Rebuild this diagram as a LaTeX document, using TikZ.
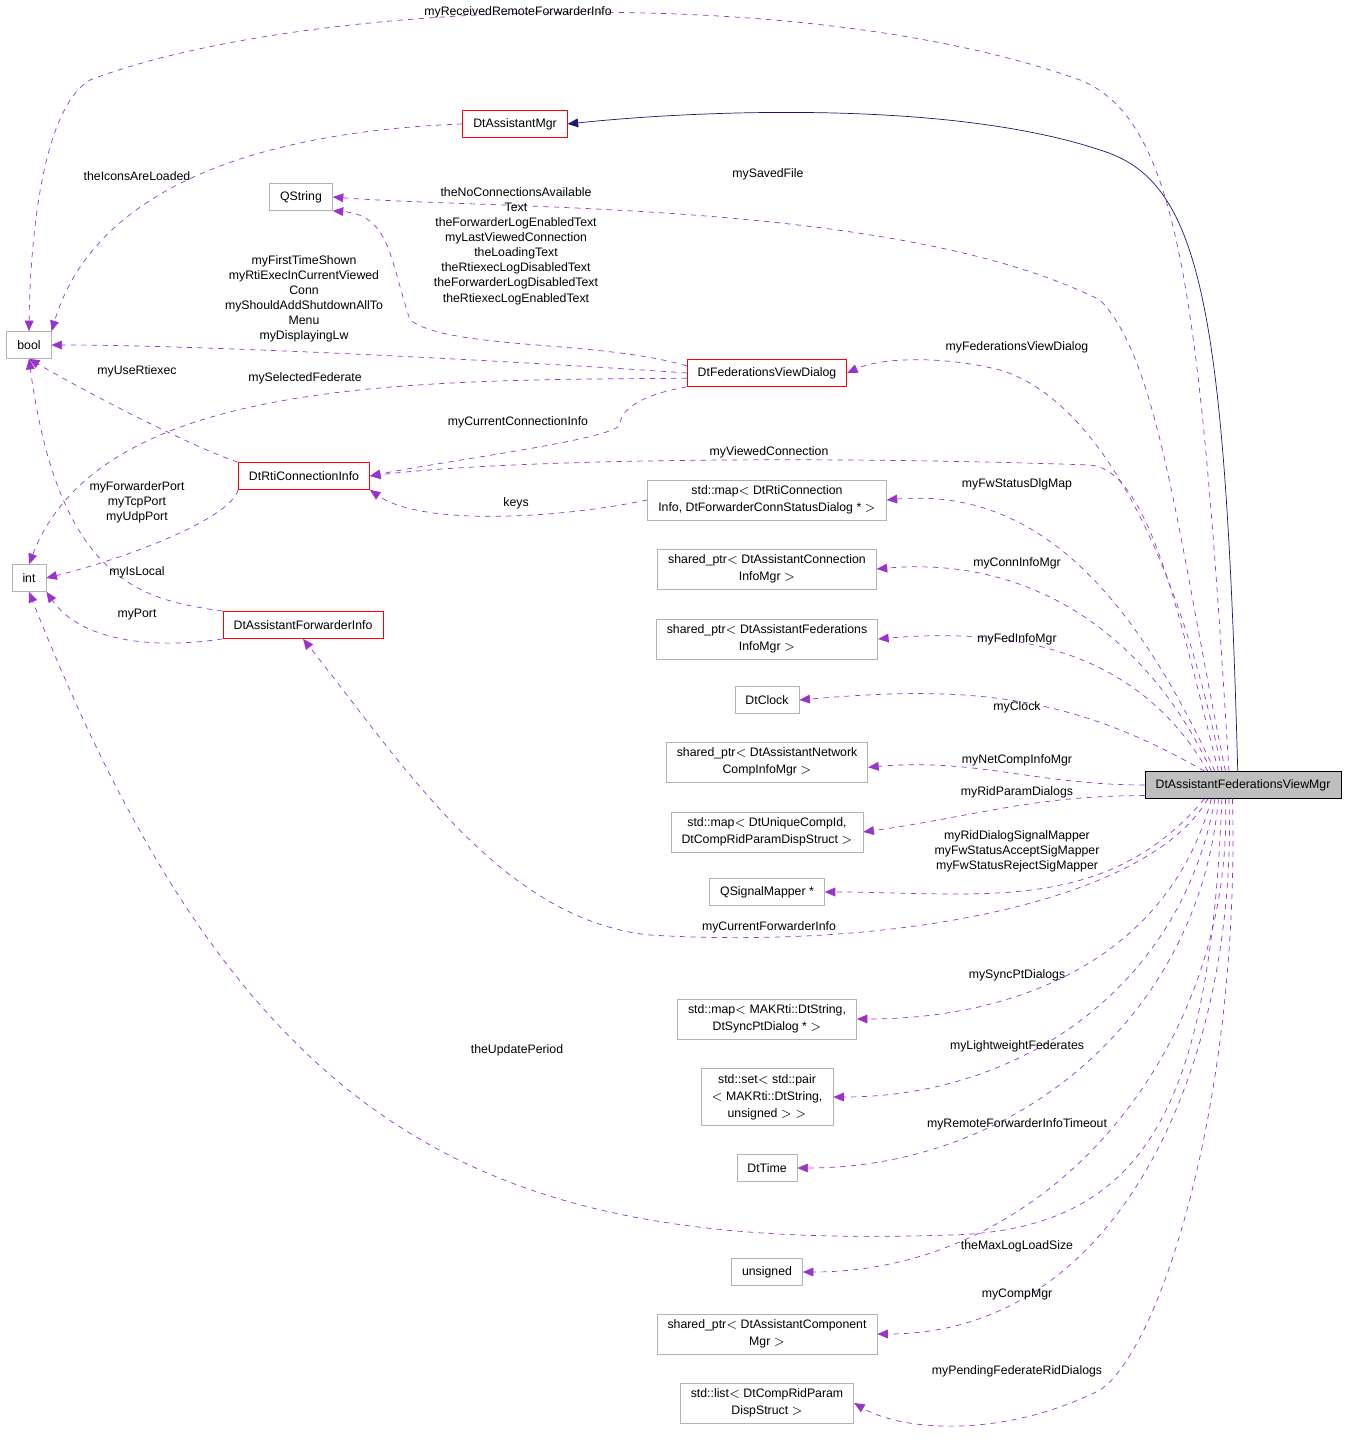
\documentclass[tikz,border=0pt]{standalone}
\usepackage{fontspec}
\setmainfont{Liberation Sans}
\usetikzlibrary{arrows.meta}
\definecolor{edgepurple}{HTML}{9A32CD}
\definecolor{edgenavy}{HTML}{191970}
\tikzset{
  cls/.style={draw=black!30, fill=white, inner xsep=6pt, minimum height=0.54cm, align=center, font=\fontsize{7}{9.6}\selectfont},
  redcls/.style={cls, draw=red},
  maincls/.style={cls, draw=black, fill=black!25},
  use/.style={draw=edgepurple, dashed, -{Triangle[length=6pt,width=5pt]}},
  inherit/.style={draw=edgenavy, -{Triangle[length=6pt,width=5pt]}},
  lbl/.style={align=center, font=\fontsize{7}{8.6}\selectfont}
}
\begin{document}
\begin{tikzpicture}[x=0.02cm, y=-0.02cm]
  \useasboundingbox (0,0) rectangle (1355,1439);

  % classes
  \node[cls] (bool) at (29,345) {bool};
  \node[cls] (int) at (29,578) {int};
  \node[cls] (qstring) at (301,197) {QString};
  \node[redcls] (amgr) at (515,124) {DtAssistantMgr};
  \node[redcls] (fvd) at (767,373) {DtFederationsViewDialog};
  \node[redcls] (rci) at (304,476) {DtRtiConnectionInfo};
  \node[redcls] (afi) at (303,625) {DtAssistantForwarderInfo};
  \node[cls] (fwmap) at (767,500) {std::map$<$ DtRtiConnection\\Info, DtForwarderConnStatusDialog * $>$};
  \node[cls] (conninfo) at (767,569) {shared\_ptr$<$ DtAssistantConnection\\InfoMgr $>$};
  \node[cls] (fedinfo) at (767,639) {shared\_ptr$<$ DtAssistantFederations\\InfoMgr $>$};
  \node[cls] (clock) at (767,700) {DtClock};
  \node[cls] (netcomp) at (767,762) {shared\_ptr$<$ DtAssistantNetwork\\CompInfoMgr $>$};
  \node[cls] (ridmap) at (767,832) {std::map$<$ DtUniqueCompId,\\DtCompRidParamDispStruct $>$};
  \node[cls] (sigmap) at (767,892) {QSignalMapper *};
  \node[cls] (syncmap) at (767,1019) {std::map$<$ MAKRti::DtString,\\DtSyncPtDialog * $>$};
  \node[cls] (lwset) at (767,1097) {std::set$<$ std::pair\\$<$ MAKRti::DtString,\\unsigned $>$ $>$};
  \node[cls] (dttime) at (767,1168) {DtTime};
  \node[cls] (unsig) at (767,1272) {unsigned};
  \node[cls] (compmgr) at (767,1334) {shared\_ptr$<$ DtAssistantComponent\\Mgr $>$};
  \node[cls] (ridlist) at (767,1403) {std::list$<$ DtCompRidParam\\DispStruct $>$};
  \node[maincls] (main) at (1243,785) {DtAssistantFederationsViewMgr};

  % inheritance
  \draw[inherit] ([xshift=-3pt]main.north) .. controls (1225,300) and (1200,180) .. (1100,150)
    .. controls (950,100) and (700,110) .. (amgr.east);

  % members of the main class
  \draw[use] ([xshift=-8pt]main.north) .. controls (1200,300) and (1180,120) .. (1080,80)
    .. controls (800,-20) and (300,0) .. (90,80) .. controls (40,110) and (30,250) .. (bool.north);
  \draw[use] ([xshift=-10pt]main.north) .. controls (1180,550) and (1160,360) .. (1100,300)
    .. controls (900,200) and (500,210) .. (qstring.east);
  \draw[use] ([xshift=-12pt]main.north) .. controls (1180,560) and (1100,400) .. (1000,370)
    .. controls (940,355) and (880,358) .. (fvd.east);
  \draw[use] ([xshift=-14pt]main.north) .. controls (1180,620) and (1150,470) .. (1090,465)
    .. controls (800,455) and (500,460) .. (rci.east);
  \draw[use] ([xshift=-16pt]main.north) to[out=115,in=5] (fwmap.east);
  \draw[use] ([xshift=-18pt]main.north) to[out=115,in=5] (conninfo.east);
  \draw[use] ([xshift=-20pt]main.north) to[out=120,in=5] (fedinfo.east);
  \draw[use] ([xshift=-22pt]main.north) to[out=150,in=5] (clock.east);
  \draw[use] (main.west) to[out=180,in=5] ([yshift=-3pt]netcomp.east);
  \draw[use] ([yshift=-6pt]main.west) to[out=180,in=8] (ridmap.east);
  \draw[use] ([xshift=-22pt]main.south) to[out=-130,in=0] (sigmap.east);
  \draw[use] ([xshift=-20pt]main.south) .. controls (1150,900) and (900,950) .. (650,935)
    .. controls (500,920) and (400,760) .. (afi.south);
  \draw[use] ([xshift=-18pt]main.south) to[out=-105,in=0] (syncmap.east);
  \draw[use] ([xshift=-16pt]main.south) to[out=-100,in=0] (lwset.east);
  \draw[use] ([xshift=-14pt]main.south) to[out=-95,in=0] (dttime.east);
  \draw[use] ([xshift=-12pt]main.south) .. controls (1210,1100) and (1150,1230) .. (950,1235)
    .. controls (500,1250) and (250,1150) .. (int.south);
  \draw[use] ([xshift=-10pt]main.south) to[out=-88,in=0] (unsig.east);
  \draw[use] ([xshift=-8pt]main.south) to[out=-88,in=0] (compmgr.east);
  \draw[use] ([xshift=-6pt]main.south) .. controls (1240,1100) and (1160,1350) .. (1100,1390)
    .. controls (1000,1440) and (900,1430) .. (ridlist.east);

  % members of the other classes
  \draw[use] (amgr.west) .. controls (300,130) and (100,170) .. (bool.north east);
  \draw[use] ([yshift=4pt]fvd.west) .. controls (600,340) and (450,350) .. (410,320)
    .. controls (390,260) and (390,215) .. (qstring.south east);
  \draw[use] (fvd.west) .. controls (500,360) and (200,345) .. (bool.east);
  \draw[use] ([yshift=-3pt]fvd.west) .. controls (400,380) and (100,380) .. (int.north);
  \draw[use] (fvd.south west) .. controls (640,395) and (620,410) .. (620,425)
    .. controls (610,440) and (450,460) .. (rci.east);
  \draw[use] (rci.north west) .. controls (200,450) and (100,400) .. (bool.south);
  \draw[use] (fwmap.west) .. controls (550,520) and (420,525) .. (rci.south east);
  \draw[use] (rci.south west) .. controls (230,520) and (120,560) .. (int.east);
  \draw[use] (afi.north west) .. controls (150,600) and (60,590) .. (bool.south);
  \draw[use] (afi.south west) .. controls (150,650) and (80,640) .. (int.south east);

  % labels
  \node[lbl] (l1) at (518,12) {myReceivedRemoteForwarderInfo};
  \node[lbl] (l2) at (137,176) {theIconsAreLoaded};
  \node[lbl] (l3) at (768,174) {mySavedFile};
  \node[lbl] (l4) at (516,246) {theNoConnectionsAvailable\\Text\\theForwarderLogEnabledText\\myLastViewedConnection\\theLoadingText\\theRtiexecLogDisabledText\\theForwarderLogDisabledText\\theRtiexecLogEnabledText};
  \node[lbl] (l5) at (304,299) {myFirstTimeShown\\myRtiExecInCurrentViewed\\Conn\\myShouldAddShutdownAllTo\\Menu\\myDisplayingLw};
  \node[lbl] (l6) at (305,378) {mySelectedFederate};
  \node[lbl] (l7) at (137,371) {myUseRtiexec};
  \node[lbl] (l8) at (518,422) {myCurrentConnectionInfo};
  \node[lbl] (l9) at (1017,347) {myFederationsViewDialog};
  \node[lbl] (l10) at (769,452) {myViewedConnection};
  \node[lbl] (l11) at (516,503) {keys};
  \node[lbl] (l12) at (1017,484) {myFwStatusDlgMap};
  \node[lbl] (l13) at (137,502) {myForwarderPort\\myTcpPort\\myUdpPort};
  \node[lbl] (l14) at (137,572) {myIsLocal};
  \node[lbl] (l15) at (137,615) {myPort};
  \node[lbl] (l16) at (1017,563) {myConnInfoMgr};
  \node[lbl] (l17) at (1017,639) {myFedInfoMgr};
  \node[lbl] (l18) at (1017,707) {myClock};
  \node[lbl] (l19) at (1017,760) {myNetCompInfoMgr};
  \node[lbl] (l20) at (1017,792) {myRidParamDialogs};
  \node[lbl] (l21) at (1017,851) {myRidDialogSignalMapper\\myFwStatusAcceptSigMapper\\myFwStatusRejectSigMapper};
  \node[lbl] (l22) at (769,927) {myCurrentForwarderInfo};
  \node[lbl] (l23) at (1017,975) {mySyncPtDialogs};
  \node[lbl] (l24) at (1017,1046) {myLightweightFederates};
  \node[lbl] (l25) at (1017,1124) {myRemoteForwarderInfoTimeout};
  \node[lbl] (l26) at (517,1050) {theUpdatePeriod};
  \node[lbl] (l27) at (1017,1246) {theMaxLogLoadSize};
  \node[lbl] (l28) at (1017,1294) {myCompMgr};
  \node[lbl] (l29) at (1017,1371) {myPendingFederateRidDialogs};
\end{tikzpicture}
\end{document}
